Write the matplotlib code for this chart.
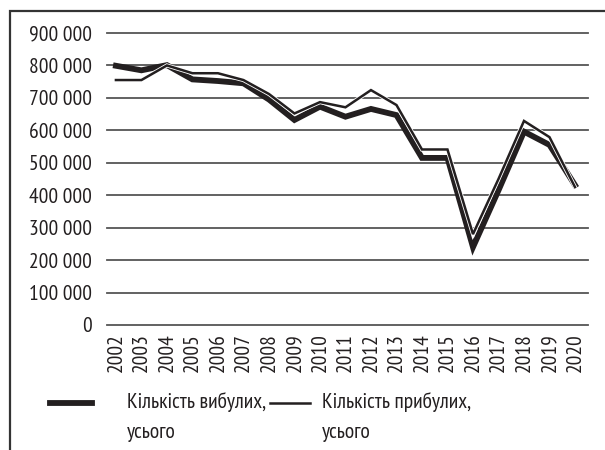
import matplotlib
matplotlib.use("Agg")
import matplotlib.pyplot as plt
import matplotlib.patheffects as pe
from matplotlib.lines import Line2D
from matplotlib.patches import Rectangle

plt.rcParams['font.family'] = ['PT Sans Narrow', 'Liberation Sans', 'DejaVu Sans']

years = [str(y) for y in range(2002, 2021)]
# Кількість вибулих, усього
departed = [799000, 785000, 801000, 757000, 752000, 745000, 695000, 632000, 673000,
            642000, 666000, 647000, 515000, 515000, 240000, 415000, 596000, 555000, 431000]
# Кількість прибулих, усього
arrived = [755000, 755000, 800000, 776000, 776000, 755000, 712000, 652000, 687000,
           671000, 724000, 678000, 541000, 541000, 280000, 450000, 629000, 579000, 425000]
yticks = list(range(0, 900001, 100000))
ylabels = ['0' if v == 0 else f"{v // 1000} 000" for v in yticks]

W, H = 605, 450
FS = 15.5
fig = plt.figure(figsize=(W / 100, H / 100), dpi=100)
ax = fig.add_axes([107 / W, 1 - 325 / H, (588 - 107) / W, (325 - 33) / H])

x = list(range(len(years)))
ax.plot(x, departed, color='#231f20', lw=4.2, solid_joinstyle='miter', zorder=3)
ax.plot(x, arrived, color='#231f20', lw=1.8, solid_joinstyle='miter', zorder=4,
        path_effects=[pe.Stroke(linewidth=3.0, foreground='white'), pe.Normal()])

ax.set_xlim(-0.35, 18.51)
ax.set_ylim(0, 900000)
ax.set_yticks(yticks)
ax.set_yticklabels(ylabels)
ax.set_xticks(x)
ax.set_xticklabels(years, rotation=90)
ax.tick_params(axis='both', length=0, labelsize=FS, colors='#231f20')
ax.tick_params(axis='y', pad=11)
ax.tick_params(axis='x', pad=6)
for s in ax.spines.values():
    s.set_visible(False)
ax.grid(axis='y', color='#555555', lw=1.3)
ax.set_axisbelow(True)
for gl in ax.get_ygridlines():
    gl.set_clip_on(False)

# legend drawn by hand
fig.add_artist(Line2D([50 / W, 92 / W], [1 - 403 / H] * 2, color='#231f20', lw=4.2))
fig.add_artist(Line2D([270 / W, 310 / W], [1 - 403 / H] * 2, color='#231f20', lw=1.8))
fig.text(127 / W, 1 - 392 / H, "Кількість вибулих,\nусього", fontsize=FS,
         va='top', ha='left', color='#231f20', linespacing=1.75)
fig.text(322 / W, 1 - 392 / H, "Кількість прибулих,\nусього", fontsize=FS,
         va='top', ha='left', color='#231f20', linespacing=1.75)

fig.add_artist(Rectangle((10 / W, -0.1), 1.2, 1 - 11 / H + 0.1, fill=False,
                         edgecolor='#333333', lw=1.6, transform=fig.transFigure))

fig.savefig("out.png", dpi=100)
